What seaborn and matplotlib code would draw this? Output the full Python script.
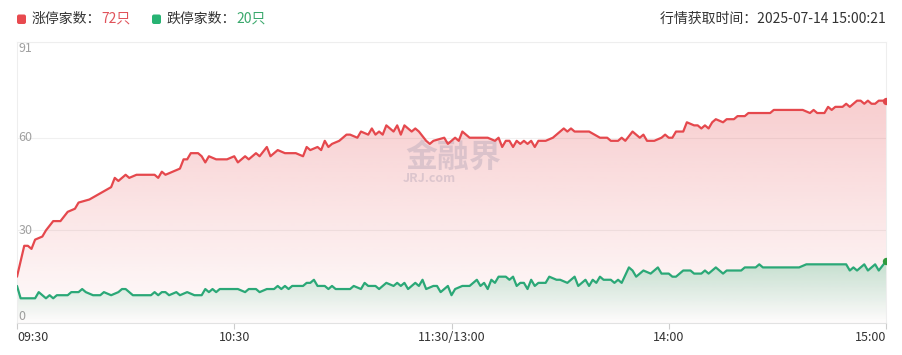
import numpy as np
import pandas as pd
import matplotlib
matplotlib.use("Agg")
import matplotlib.pyplot as plt
import matplotlib.colors as mcolors
import matplotlib.patches as mpatches
import seaborn as sns

# ---------------- data ----------------
time_ticks = [0, 60, 120, 180, 240]
time_labels = ["09:30", "10:30", "11:30/13:00", "14:00", "15:00"]
y_ticks = [0, 30, 60, 91]
y_labels = ["0", "30", "60", "91"]

up_minutes = [0, 2, 3, 4, 5, 7, 8, 10, 12, 14,
              16, 17, 20, 23, 26, 27, 28, 30, 31, 33,
              38, 39, 40, 41, 43, 45, 46, 47, 48, 50,
              51, 52, 53, 55, 58, 60, 61, 63, 64, 66,
              67, 69, 70, 72, 74, 77, 79, 80, 81, 83,
              84, 85, 86, 87, 89, 91, 92, 94, 95, 97,
              98, 99, 100, 101, 102, 103, 104, 105, 106, 107,
              109, 110, 111, 113, 114, 115, 118, 119, 120, 121,
              122, 123, 125, 130, 132, 133, 134, 135, 136, 137,
              138, 139, 140, 141, 142, 143, 144, 146, 148, 149,
              151, 152, 153, 154, 158, 161, 163, 164, 166, 167,
              168, 170, 171, 172, 173, 174, 176, 178, 179, 180,
              181, 182, 184, 185, 187, 188, 189, 190, 191, 192,
              193, 195, 196, 198, 199, 201, 202, 208, 209, 217,
              219, 220, 221, 223, 224, 225, 226, 228, 229, 230,
              232, 233, 234, 235, 236, 237, 238, 240]
up_counts = [15, 25, 25, 24, 27, 28, 30, 33, 33, 36,
             37, 39, 40, 42, 44, 47, 46, 48, 47, 48,
             48, 47, 49, 48, 49, 50, 53, 53, 55, 55,
             54, 52, 54, 53, 53, 54, 52, 54, 53, 55,
             54, 57, 54, 56, 55, 55, 54, 57, 56, 57,
             56, 59, 57, 58, 59, 61, 61, 60, 62, 61,
             63, 61, 62, 61, 64, 63, 62, 64, 61, 64,
             62, 63, 62, 59, 58, 59, 60, 58, 59, 60,
             59, 62, 60, 60, 59, 60, 57, 59, 59, 57,
             59, 58, 59, 58, 59, 57, 59, 59, 60, 61,
             63, 62, 63, 62, 62, 60, 60, 59, 59, 60,
             59, 62, 61, 60, 61, 59, 59, 60, 61, 60,
             60, 62, 62, 65, 64, 64, 63, 64, 63, 65,
             66, 65, 66, 66, 67, 67, 68, 68, 69, 69,
             68, 69, 68, 68, 70, 69, 70, 70, 71, 70,
             72, 72, 71, 72, 71, 71, 72, 72]

down_minutes = [0, 1, 5, 6, 8, 9, 10, 11, 14, 15,
                17, 18, 19, 21, 23, 24, 26, 28, 29, 30,
                32, 37, 38, 39, 40, 41, 42, 44, 45, 47,
                49, 51, 52, 53, 54, 55, 56, 61, 63, 64,
                66, 67, 69, 71, 72, 73, 74, 75, 76, 79,
                80, 81, 82, 83, 85, 86, 87, 88, 92, 93,
                95, 96, 97, 99, 100, 102, 104, 105, 106, 107,
                108, 110, 111, 112, 113, 115, 116, 117, 119, 120,
                121, 123, 125, 126, 127, 128, 129, 130, 131, 132,
                133, 135, 136, 137, 138, 139, 140, 141, 142, 143,
                144, 146, 147, 149, 150, 152, 154, 155, 157, 158,
                159, 160, 161, 162, 164, 165, 166, 167, 169, 170,
                171, 173, 175, 177, 178, 180, 181, 182, 183, 184,
                186, 187, 189, 190, 191, 193, 194, 195, 196, 200,
                201, 204, 205, 206, 216, 218, 229, 230, 231, 232,
                234, 235, 237, 238, 240]
down_counts = [12, 8, 8, 10, 8, 9, 8, 9, 9, 10,
               10, 11, 10, 9, 9, 10, 9, 10, 11, 11,
               9, 9, 10, 9, 10, 10, 9, 10, 9, 10,
               9, 9, 11, 10, 11, 10, 11, 11, 10, 11,
               11, 10, 11, 11, 12, 11, 12, 11, 12, 12,
               13, 13, 14, 12, 12, 11, 12, 11, 11, 12,
               11, 13, 12, 12, 11, 13, 12, 13, 12, 13,
               11, 13, 12, 14, 11, 12, 12, 10, 12, 9,
               11, 12, 12, 13, 14, 12, 13, 11, 14, 13,
               15, 15, 14, 15, 12, 13, 13, 11, 14, 12,
               13, 13, 15, 14, 14, 13, 15, 12, 14, 12,
               14, 13, 15, 14, 14, 13, 14, 13, 18, 17,
               15, 17, 16, 18, 16, 16, 15, 15, 16, 17,
               17, 16, 16, 17, 16, 18, 17, 16, 17, 17,
               18, 18, 19, 18, 18, 19, 19, 17, 18, 17,
               19, 17, 19, 17, 20]

up_total = 72
down_total = 20
up_name = "涨停家数："
down_name = "跌停家数："
fetch_label = "行情获取时间：2025-07-14 15:00:21"
watermark_cn = "金融界"
watermark_en = "JRJ.com"

# ---------------- style ----------------
RED = "#e5484d"
GREEN = "#2ba877"
RED_SQ = "#e84a4f"
GREEN_SQ = "#27b373"
W, H = 903, 355

sns.set_theme(style="white")
plt.rcParams["font.family"] = ["Noto Sans CJK SC", "DejaVu Sans"]
plt.rcParams["axes.unicode_minus"] = False

up_df = pd.DataFrame({"minute": up_minutes, "count": up_counts})
down_df = pd.DataFrame({"minute": down_minutes, "count": down_counts})

fig = plt.figure(figsize=(W / 100, H / 100), dpi=100)
fig.patch.set_facecolor("white")
ax = fig.add_axes([17 / W, 1 - 323 / H, 869 / W, (323 - 42) / H])
ax.set_facecolor("white")


def gradient_area(ax, x, y, color, a_top, a_bottom, top, z):
    poly = ax.fill_between(x, y, 0, facecolor="none", edgecolor="none", zorder=z)
    rgb = mcolors.to_rgb(color)
    n = 256
    img = np.zeros((n, 1, 4))
    img[:, 0, :3] = rgb
    img[:, 0, 3] = np.linspace(a_top, a_bottom, n)
    im = ax.imshow(img, aspect="auto", extent=[min(x), max(x), 0, top],
                   origin="upper", zorder=z, interpolation="bilinear")
    im.set_clip_path(poly.get_paths()[0], transform=ax.transData)


gradient_area(ax, up_df["minute"].values, up_df["count"].values, RED, 0.27, 0.015, 72, 1)
gradient_area(ax, down_df["minute"].values, down_df["count"].values, "#22b070", 0.26, 0.0, 20, 2)

sns.lineplot(data=up_df, x="minute", y="count", color=RED, linewidth=1.6, ax=ax,
             legend=False, zorder=4)
sns.lineplot(data=down_df, x="minute", y="count", color=GREEN, linewidth=1.6, ax=ax,
             legend=False, zorder=4)

ax.scatter([up_minutes[-1]], [up_counts[-1]], s=28, color="#e0464b", zorder=5, linewidths=0)
ax.scatter([down_minutes[-1]], [down_counts[-1]], s=28, color="#2f9a3c", zorder=5, linewidths=0)

# watermark
ax.text(120.5, 53.5, watermark_cn, fontsize=23, fontweight="bold", color="#bfaebd",
        alpha=0.5, ha="center", va="center", zorder=3)
ax.text(114, 46.8, watermark_en, fontsize=9, fontweight="bold", color="#bfaebd",
        alpha=0.5, ha="center", va="center", zorder=3)

ax.set_xlim(0, 240)
ax.set_ylim(0, 91)
ax.set_xlabel("")
ax.set_ylabel("")

ax.set_xticks(time_ticks)
ax.set_xticklabels(time_labels)
ax.tick_params(axis="x", length=4, width=0.8, color="#cccccc", labelcolor="#333333",
               labelsize=9, pad=2, bottom=True)
xl = ax.get_xticklabels()
xl[0].set_ha("left")
xl[-1].set_ha("right")

ax.set_yticks(y_ticks)
ax.set_yticklabels(y_labels)
ax.tick_params(axis="y", length=0, pad=-1, labelcolor="#a0a0a0", labelsize=9, left=True)
for lbl, v in zip(ax.get_yticklabels(), y_ticks):
    lbl.set_ha("left")
    if v == 91:
        lbl.set_va("top")
    elif v == 0:
        lbl.set_va("bottom")
    else:
        lbl.set_va("center")

ax.yaxis.grid(True, color="#f0f0f0", linewidth=0.8)
ax.xaxis.grid(False)
for s in ["left", "right", "top"]:
    ax.spines[s].set_color("#eeeeee")
    ax.spines[s].set_linewidth(0.8)
ax.spines["bottom"].set_color("#e2e2e2")
ax.spines["bottom"].set_linewidth(0.8)


# header legend
def fx(px):
    return px / W


def fy(py):
    return 1 - py / H


sq1 = mpatches.FancyBboxPatch((0.17, (H - 24) / 100), 0.09, 0.095,
                              boxstyle="round,pad=0,rounding_size=0.02",
                              transform=fig.dpi_scale_trans, color=RED_SQ, lw=0)
sq2 = mpatches.FancyBboxPatch((1.52, (H - 24) / 100), 0.09, 0.095,
                              boxstyle="round,pad=0,rounding_size=0.02",
                              transform=fig.dpi_scale_trans, color=GREEN_SQ, lw=0)
fig.add_artist(sq1)
fig.add_artist(sq2)

t1 = fig.text(fx(32), fy(19), up_name, fontsize=10, color="#333333", va="center", ha="left")
ax.annotate(f"{up_total}只", xy=(1, 0), xycoords=t1, va="bottom", ha="left",
            fontsize=10, color="#e0525a")
t2 = fig.text(fx(167), fy(19), down_name, fontsize=10, color="#333333", va="center", ha="left")
ax.annotate(f"{down_total}只", xy=(1, 0), xycoords=t2, va="bottom", ha="left",
            fontsize=10, color="#3aa86c")
fig.text(fx(886), fy(19), fetch_label, fontsize=10, color="#333333", va="center", ha="right")

fig.savefig("out.png", dpi=100, facecolor="white")
